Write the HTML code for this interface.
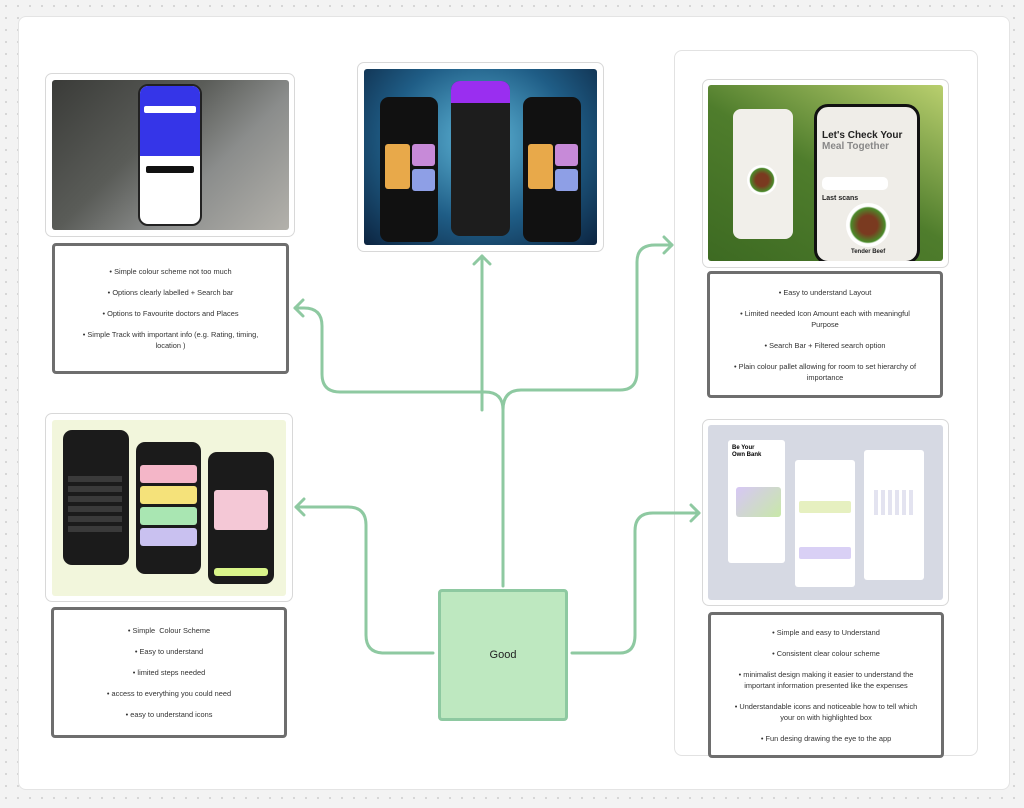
<!DOCTYPE html>
<html><head><meta charset="utf-8"><style>
*{margin:0;padding:0;box-sizing:border-box}
body{width:1024px;height:808px;position:relative;overflow:hidden;background:#f3f3f3;background-image:radial-gradient(#d4d4d4 1px,transparent 1.2px);background-size:12px 12px;font-family:"Liberation Sans",sans-serif}
.a{position:absolute}
.card{position:absolute;background:#fff;border:1.5px solid #d8d8d8;border-radius:7px}
.img{position:absolute;border-radius:3px;overflow:hidden}
.tb{position:absolute;background:#fff;border:3px solid #6e6e6e;border-radius:4px;display:flex;flex-direction:column;justify-content:center;align-items:center;text-align:center;font-size:7.4px;color:#333;line-height:11px;padding:0 18px}
.tb p{margin:5px 0}
</style></head><body>
<div class="a" style="left:18px;top:16px;width:992px;height:774px;background:#fff;border:1px solid #e4e4e4;border-radius:8px"></div>
<div class="a" style="left:674px;top:50px;width:304px;height:706px;background:#fff;border:1.5px solid #e2e2e2;border-radius:8px"></div>

<div class="card" style="left:45px;top:73px;width:250px;height:164px"></div>
<div class="img" style="left:52px;top:80px;width:237px;height:150px;background:linear-gradient(135deg,#3a3b38 0%,#5a5c58 40%,#8b8d8c 65%,#b3b1ab 100%)">
 <div class="a" style="left:86px;top:4px;width:64px;height:142px;border-radius:10px;background:#fff;border:2px solid #222"></div>
 <div class="a" style="left:88px;top:6px;width:60px;height:70px;border-radius:8px 8px 0 0;background:#3535e8"></div>
 <div class="a" style="left:92px;top:26px;width:52px;height:7px;background:#fff;border-radius:2px"></div>
 <div class="a" style="left:94px;top:86px;width:48px;height:7px;background:#111;border-radius:2px"></div>
</div>

<div class="card" style="left:357px;top:62px;width:247px;height:190px"></div>
<div class="img" style="left:364px;top:69px;width:233px;height:176px;background:radial-gradient(ellipse at 50% 40%,#5fb7d9 0%,#1f5d86 55%,#0c2440 100%)">
 <div class="a" style="left:16px;top:28px;width:58px;height:145px;border-radius:9px;background:#111"></div>
 <div class="a" style="left:87px;top:12px;width:59px;height:155px;border-radius:9px;background:#1d1d1d"></div>
 <div class="a" style="left:87px;top:12px;width:59px;height:22px;border-radius:9px 9px 0 0;background:#9a2ef0"></div>
 <div class="a" style="left:159px;top:28px;width:58px;height:145px;border-radius:9px;background:#111"></div>
 <div class="a" style="left:21px;top:75px;width:25px;height:45px;background:#e8a94a;border-radius:3px"></div>
 <div class="a" style="left:48px;top:75px;width:23px;height:22px;background:#c78ad8;border-radius:3px"></div>
 <div class="a" style="left:48px;top:100px;width:23px;height:22px;background:#8e9fe6;border-radius:3px"></div>
 <div class="a" style="left:164px;top:75px;width:25px;height:45px;background:#e8a94a;border-radius:3px"></div>
 <div class="a" style="left:191px;top:75px;width:23px;height:22px;background:#c78ad8;border-radius:3px"></div>
 <div class="a" style="left:191px;top:100px;width:23px;height:22px;background:#8e9fe6;border-radius:3px"></div>
</div>

<div class="card" style="left:702px;top:79px;width:247px;height:189px"></div>
<div class="img" style="left:708px;top:85px;width:235px;height:176px;background:linear-gradient(30deg,#3d6a22 0%,#4f7d2c 50%,#b9cf6e 100%)">
 <div class="a" style="left:25px;top:24px;width:60px;height:130px;border-radius:8px;background:#f1efea"></div>
 <div class="a" style="left:106px;top:19px;width:106px;height:160px;border-radius:14px;background:#efede8;border:3px solid #111"></div>
 <div class="a" style="left:114px;top:45px;color:#222;font-size:10px;line-height:11px;font-weight:bold">Let's Check Your<br><span style="color:#888">Meal Together</span></div>
 <div class="a" style="left:114px;top:92px;width:66px;height:13px;background:#fff;border-radius:5px"></div>
 <div class="a" style="left:114px;top:110px;font-size:7px;font-weight:bold;color:#222">Last scans</div>
 <div class="a" style="left:138px;top:118px;width:44px;height:44px;border-radius:50%;background:radial-gradient(#7a3a20 30%,#4a8a2a 55%,#fff 60%)"></div>
 <div class="a" style="left:143px;top:164px;font-size:6px;font-weight:bold;color:#222">Tender Beef</div>
 <div class="a" style="left:39px;top:80px;width:30px;height:30px;border-radius:50%;background:radial-gradient(#7a3a20 30%,#4a8a2a 55%,#fff 60%)"></div>
</div>

<div class="card" style="left:45px;top:413px;width:248px;height:189px"></div>
<div class="img" style="left:52px;top:420px;width:234px;height:176px;background:#f2f6dc">
 <div class="a" style="left:11px;top:10px;width:66px;height:135px;border-radius:9px;background:#1b1b1b"></div>
 <div class="a" style="left:16px;top:56px;width:54px;height:60px;background:repeating-linear-gradient(#3a3a3a 0 6px,#1b1b1b 6px 10px)"></div>
 <div class="a" style="left:84px;top:22px;width:65px;height:132px;border-radius:9px;background:#1b1b1b"></div>
 <div class="a" style="left:88px;top:45px;width:57px;height:18px;background:#f4b6c8;border-radius:3px"></div>
 <div class="a" style="left:88px;top:66px;width:57px;height:18px;background:#f5e27a;border-radius:3px"></div>
 <div class="a" style="left:88px;top:87px;width:57px;height:18px;background:#a9e6b2;border-radius:3px"></div>
 <div class="a" style="left:88px;top:108px;width:57px;height:18px;background:#c9c1f0;border-radius:3px"></div>
 <div class="a" style="left:156px;top:32px;width:66px;height:132px;border-radius:9px;background:#1b1b1b"></div>
 <div class="a" style="left:162px;top:70px;width:54px;height:40px;background:#f4c8d6;border-radius:3px"></div>
 <div class="a" style="left:162px;top:148px;width:54px;height:8px;background:#d9f58a;border-radius:3px"></div>
</div>

<div class="card" style="left:702px;top:419px;width:247px;height:187px"></div>
<div class="img" style="left:708px;top:425px;width:235px;height:175px;background:#d6d9e3">
 <div class="a" style="left:20px;top:15px;width:57px;height:123px;background:#fff;border-radius:3px"></div>
 <div class="a" style="left:24px;top:20px;font-size:6px;font-weight:bold;line-height:7px">Be Your<br>Own Bank</div>
 <div class="a" style="left:28px;top:62px;width:45px;height:30px;background:linear-gradient(135deg,#d7c7f5,#c8e8a8);border-radius:3px"></div>
 <div class="a" style="left:87px;top:35px;width:60px;height:127px;background:#fff;border-radius:3px"></div>
 <div class="a" style="left:91px;top:76px;width:52px;height:12px;background:#e6f0c0;border-radius:2px"></div>
 <div class="a" style="left:91px;top:122px;width:52px;height:12px;background:#d9d0f5;border-radius:2px"></div>
 <div class="a" style="left:156px;top:25px;width:60px;height:130px;background:#fff;border-radius:3px"></div>
 <div class="a" style="left:166px;top:65px;width:40px;height:25px;background:repeating-linear-gradient(90deg,#e3e3f0 0 4px,transparent 4px 7px)"></div>
</div>

<div class="tb" style="left:52px;top:243px;width:237px;height:131px"><p>• Simple colour scheme not too much</p><p>• Options clearly labelled + Search bar</p><p>• Options to Favourite doctors and Places</p><p>• Simple Track with important info (e.g. Rating, timing, location )</p></div>
<div class="tb" style="left:51px;top:607px;width:236px;height:131px"><p>• Simple &nbsp;Colour Scheme</p><p>• Easy to understand</p><p>• limited steps needed</p><p>• access to everything you could need</p><p>• easy to understand icons</p></div>
<div class="tb" style="left:707px;top:271px;width:236px;height:127px"><p>• Easy to understand Layout</p><p>• Limited needed Icon Amount each with meaningful Purpose</p><p>• Search Bar + Filtered search option</p><p>• Plain colour pallet allowing for room to set hierarchy of importance</p></div>
<div class="tb" style="left:708px;top:612px;width:236px;height:146px"><p>• Simple and easy to Understand</p><p>• Consistent clear colour scheme</p><p>• minimalist design making it easier to understand the important information presented like the expenses</p><p>• Understandable icons and noticeable how to tell which your on with highlighted box</p><p>• Fun desing drawing the eye to the app</p></div>

<svg class="a" style="left:0;top:0" width="1024" height="808" fill="none" stroke="#8ec9a1" stroke-width="3" stroke-linecap="round" stroke-linejoin="round">
 <path d="M503 586 V410 Q503 392 485 392 H340 Q322 392 322 374 V326 Q322 308 304 308 H295"/>
 <path d="M303 300 L295 308 L303 316"/>
 <path d="M482 410 V256"/>
 <path d="M474 264 L482 256 L490 264"/>
 <path d="M503 410 Q503 390 521 390 H620 Q637 390 637 372 V262 Q637 245 655 245 H672"/>
 <path d="M664 237 L672 245 L664 253"/>
 <path d="M433 653 H384 Q366 653 366 635 V525 Q366 507 348 507 H296"/>
 <path d="M304 499 L296 507 L304 515"/>
 <path d="M572 653 H620 Q635 653 635 635 V531 Q635 513 653 513 H699"/>
 <path d="M691 505 L699 513 L691 521"/>
</svg>
<div class="a" style="left:438px;top:589px;width:130px;height:132px;background:#bee8c0;border:3px solid #8ec9a1;border-radius:4px;display:flex;align-items:center;justify-content:center;font-size:11px;color:#222">Good</div>
</body></html>
